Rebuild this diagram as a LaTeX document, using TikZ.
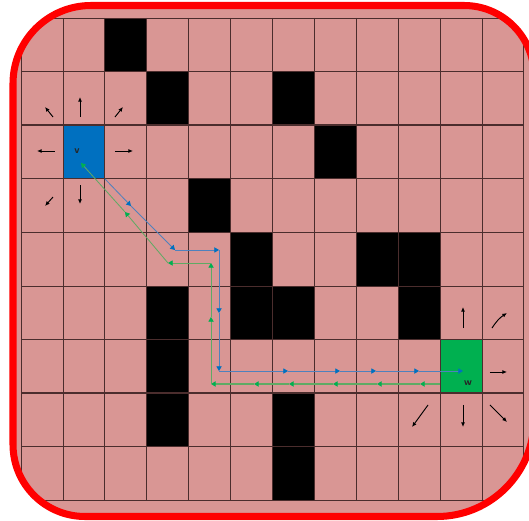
\documentclass[tikz,border=0pt]{standalone}
\usepackage{tikz}
\usetikzlibrary{arrows.meta,calc}

\definecolor{cellpink}{HTML}{D99694}
\definecolor{vblue}{HTML}{0070C0}
\definecolor{wgreen}{HTML}{00B050}
\definecolor{gridline}{RGB}{75,45,45}
\definecolor{bluetrace}{HTML}{4F81BD}
\definecolor{greentrace}{RGB}{95,170,100}

% outline of the board, in pixel units
\newcommand{\boardoutline}{(13,83.5) .. controls (13,40.4) and (47.9,5.5) .. (91,5.5)
  -- (464,5.5) .. controls (502.7,5.5) and (534,36.8) .. (534,75.5)
  -- (534,419.5) .. controls (534,473.1) and (490.6,516.5) .. (437,516.5)
  -- (85,516.5) .. controls (45.2,516.5) and (13,484.3) .. (13,444.5) -- cycle}

\begin{document}
\begin{tikzpicture}[x=0.3mm,y=-0.3mm,
  board/.style={shift={(21,18)},x=12.57mm,y=-16.08mm},
  gridrule/.style={gridline,line width=0.6pt},
  heavyrule/.style={gridline,line width=1.3pt},
  wall/.style={fill=black},
  move/.style={-{Latex[length=4pt,width=3.5pt]},line width=0.8pt},
  bluestep/.style={bluetrace,line width=0.7pt,-{Triangle[length=4pt,width=4.5pt,color=vblue]}},
  greenstep/.style={greentrace,line width=0.7pt,-{Triangle[length=4pt,width=4.5pt,color=wgreen]}},
  celltext/.style={font=\sffamily\bfseries\small,text=black!85,inner sep=0pt}
]

% Frame
\useasboundingbox (0,0) rectangle (529,521);
\fill[cellpink] \boardoutline;

\begin{scope}
\clip \boardoutline;
\begin{scope}[board]
% Walls
\foreach \c/\r in {2/0,3/1,6/1,7/2,4/3,5/4,8/4,9/4,3/5,5/5,6/5,9/5,3/6,3/7,6/7,6/8}
  \fill[wall] (\c,\r) rectangle ++(1,1);

% Start and goal cells
\fill[vblue] (1,2) rectangle (2,3);
\fill[wgreen] (10,6) rectangle (11,7);

% Grid
\foreach \c in {0,...,12} \draw[gridrule] (\c,0) -- (\c,9);
\foreach \r in {0,1,3,5,6,8,9} \draw[gridrule] (0,\r) -- (12,\r);
\foreach \r in {2,4,7} \draw[heavyrule] (0,\r) -- (12,\r);
\end{scope}
\end{scope}

\draw[red,line width=6pt] \boardoutline;

\begin{scope}[board]
% Labels
\node[celltext] (v) at (1.336,2.481) {v};
\node[celltext] (w) at (10.668,6.81) {w};

% Moves around v
\draw[move] (1.408,1.847) -- (1.408,1.474);
\draw[move] (0.764,1.847) -- (0.573,1.660);
\draw[move] (2.243,1.847) -- (2.434,1.660);
\draw[move] (0.811,2.481) -- (0.382,2.481);
\draw[move] (2.243,2.481) -- (2.673,2.481);
\draw[move] (0.764,3.340) -- (0.573,3.507);
\draw[move] (1.408,3.116) -- (1.408,3.470);

% Moves around w
\draw[move] (10.549,5.784) -- (10.549,5.392);
\draw[move] (11.241,5.784) to[bend left=12] (11.599,5.504);
\draw[move] (11.193,6.604) -- (11.599,6.604);
\draw[move] (9.714,7.220) -- (9.332,7.631);
\draw[move] (10.549,7.220) -- (10.549,7.631);
\draw[move] (11.193,7.220) -- (11.599,7.537);

% Path from v to w
\coordinate (b0) at (2,3);
\coordinate (b1) at (2.625,3.507);
\coordinate (b2) at (3.675,4.328);
\coordinate (b3) at (4.726,4.328);
\coordinate (b4) at (4.726,5.504);
\coordinate (b5) at (4.726,6.586);
\coordinate (b6) at (6.372,6.586);
\coordinate (b7) at (7.613,6.586);
\coordinate (b8) at (8.473,6.586);
\coordinate (b9) at (9.499,6.586);
\coordinate (b10) at (10.549,6.586);
\foreach \a/\b in {b0/b1,b1/b2,b2/b3,b3/b4,b4/b5,b5/b6,b6/b7,b7/b8,b8/b9,b9/b10}
  \draw[bluestep] (\a) -- (\b);

% Path from w back to v
\coordinate (g0) at (10,6.828);
\coordinate (g1) at (9.523,6.828);
\coordinate (g2) at (8.496,6.828);
\coordinate (g3) at (7.446,6.828);
\coordinate (g4) at (6.396,6.828);
\coordinate (g5) at (5.561,6.828);
\coordinate (g6) at (4.535,6.828);
\coordinate (g7) at (4.535,5.578);
\coordinate (g8) at (4.535,4.571);
\coordinate (g9) at (3.508,4.571);
\coordinate (g10) at (2.482,3.619);
\coordinate (g11) at (1.432,2.705);
\foreach \a/\b in {g0/g1,g1/g2,g2/g3,g3/g4,g4/g5,g5/g6}
  \draw[greenstep,line width=1.6pt] (\a) -- (\b);
\foreach \a/\b in {g6/g7,g7/g8,g8/g9,g9/g10,g10/g11}
  \draw[greenstep] (\a) -- (\b);
\end{scope}

\end{tikzpicture}
\end{document}
